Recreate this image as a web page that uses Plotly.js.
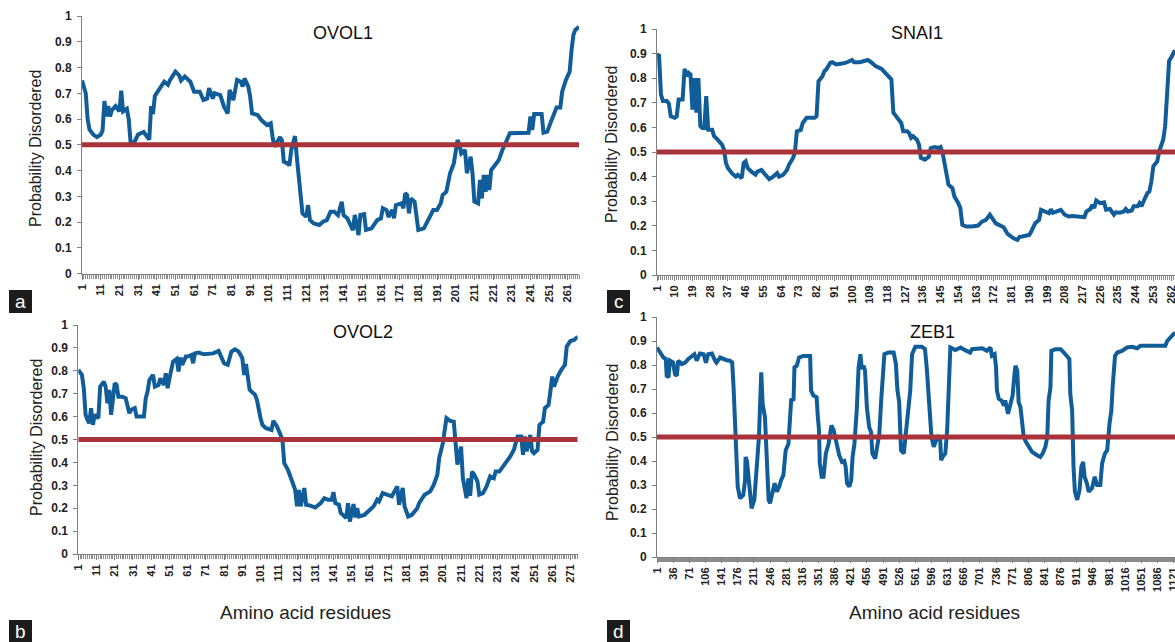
<!DOCTYPE html>
<html>
<head>
<meta charset="utf-8">
<script src="https://cdn.plot.ly/plotly-3.0.1.min.js"></script>
<style>
html,body{margin:0;padding:0;background:#fff;}
#chart{width:1175px;height:642px;}
</style>
</head>
<body>
<div id="chart"></div>
<script>
// ---------------- DATA ----------------
const threshold = 0.5;

// OVOL1 (a) – 267 residues
const ovol1Res = [1,3,4,5,7,9,11,12,13,14,15,16,17,19,21,22,23,25,26,27,29,31,34,36,37,38,39,40,42,44,45,47,48,51,53,54,56,59,61,64,66,68,69,71,72,75,77,79,80,82,84,86,87,88,90,91,92,95,97,100,102,103,104,105,107,108,109,111,112,113,115,116,117,118,119,121,122,123,125,128,130,132,134,136,138,140,141,143,145,146,147,149,150,152,153,156,159,161,162,164,165,167,168,169,172,173,174,175,176,177,179,180,181,184,186,189,191,193,194,196,198,200,202,203,204,206,207,209,210,211,213,214,215,216,217,218,219,220,222,224,226,227,228,230,233,236,240,241,242,243,244,247,248,250,252,254,255,257,258,260,262,263,264,265,267];
const ovol1Prob = [0.75,0.70,0.60,0.56,0.54,0.53,0.54,0.555,0.67,0.61,0.65,0.61,0.635,0.65,0.63,0.71,0.63,0.64,0.60,0.51,0.51,0.54,0.55,0.525,0.52,0.65,0.62,0.69,0.71,0.73,0.745,0.733,0.75,0.784,0.77,0.75,0.765,0.745,0.706,0.706,0.674,0.68,0.72,0.68,0.70,0.693,0.648,0.622,0.713,0.674,0.752,0.745,0.726,0.758,0.726,0.687,0.622,0.616,0.596,0.577,0.584,0.53,0.493,0.505,0.53,0.517,0.435,0.428,0.42,0.48,0.534,0.45,0.383,0.30,0.234,0.221,0.266,0.208,0.195,0.189,0.202,0.208,0.24,0.24,0.227,0.279,0.227,0.215,0.189,0.169,0.228,0.15,0.228,0.231,0.17,0.176,0.208,0.215,0.254,0.247,0.22,0.247,0.215,0.266,0.273,0.254,0.312,0.305,0.234,0.292,0.279,0.234,0.17,0.176,0.202,0.247,0.247,0.273,0.305,0.318,0.39,0.428,0.519,0.50,0.467,0.48,0.39,0.454,0.39,0.28,0.273,0.364,0.292,0.383,0.318,0.383,0.325,0.402,0.421,0.44,0.48,0.493,0.512,0.545,0.545,0.545,0.547,0.61,0.558,0.62,0.62,0.62,0.547,0.551,0.59,0.635,0.645,0.645,0.706,0.752,0.784,0.868,0.926,0.946,0.958];
const ovol1Ticks = [1,11,21,31,41,51,61,71,81,91,101,111,121,131,141,151,161,171,181,191,201,211,221,231,241,251,261];

// OVOL2 (b) – 275 residues
const ovol2Res = [1,3,4,5,6,7,8,9,10,12,13,15,16,17,18,19,21,22,23,25,27,29,30,32,33,35,37,38,39,40,42,43,45,46,48,49,50,51,53,55,56,57,58,60,61,63,64,65,67,70,72,75,78,80,81,83,85,87,89,91,92,93,94,95,98,99,101,102,104,107,108,110,112,113,114,116,118,120,121,122,123,125,126,128,131,133,134,136,138,140,141,142,144,145,148,149,150,152,153,154,155,158,161,163,165,166,168,170,173,176,177,179,180,182,184,187,188,191,194,196,198,199,201,203,205,207,208,209,211,212,214,215,216,217,218,219,220,221,223,225,227,229,230,232,234,236,238,240,242,244,245,246,247,249,250,251,253,254,256,257,259,260,261,262,264,266,268,269,271,273,275];
const ovol2Prob = [0.804,0.782,0.724,0.608,0.586,0.571,0.637,0.564,0.608,0.593,0.731,0.753,0.731,0.658,0.717,0.608,0.746,0.739,0.687,0.687,0.68,0.615,0.63,0.637,0.60,0.60,0.60,0.68,0.709,0.76,0.782,0.731,0.738,0.767,0.738,0.789,0.724,0.767,0.84,0.852,0.797,0.858,0.826,0.862,0.862,0.869,0.833,0.876,0.88,0.872,0.872,0.876,0.887,0.855,0.833,0.826,0.884,0.894,0.884,0.855,0.782,0.83,0.782,0.717,0.695,0.673,0.593,0.564,0.549,0.542,0.581,0.557,0.52,0.499,0.397,0.368,0.324,0.28,0.208,0.28,0.208,0.288,0.215,0.212,0.203,0.215,0.222,0.244,0.237,0.237,0.27,0.222,0.215,0.179,0.157,0.222,0.142,0.218,0.16,0.20,0.164,0.171,0.193,0.208,0.237,0.23,0.266,0.259,0.252,0.295,0.215,0.288,0.208,0.164,0.171,0.20,0.222,0.259,0.273,0.302,0.346,0.419,0.484,0.593,0.581,0.578,0.477,0.39,0.469,0.331,0.244,0.33,0.254,0.36,0.349,0.331,0.317,0.259,0.266,0.295,0.339,0.331,0.36,0.36,0.382,0.397,0.426,0.455,0.513,0.513,0.433,0.513,0.448,0.52,0.448,0.44,0.455,0.564,0.578,0.637,0.651,0.709,0.775,0.731,0.775,0.804,0.826,0.906,0.93,0.935,0.949];
const ovol2Ticks = [1,11,21,31,41,51,61,71,81,91,101,111,121,131,141,151,161,171,181,191,201,211,221,231,241,251,261,271];

// SNAI1 (c) – 264 residues
const snai1Res = [1,2,3,4,6,7,8,10,11,12,14,15,16,17,18,19,20,21,22,23,24,25,26,27,29,30,32,34,35,36,37,39,41,42,44,45,46,47,49,51,52,54,56,58,60,62,63,65,67,68,70,71,72,74,75,77,79,81,82,83,85,86,87,89,90,92,95,97,100,101,104,107,108,110,112,115,118,119,120,121,123,125,126,128,129,130,131,133,134,135,137,139,140,142,144,145,146,147,148,149,151,152,154,155,156,158,161,164,166,168,170,172,173,177,179,182,184,185,188,190,191,193,195,196,198,200,201,202,205,206,208,210,212,214,217,218,219,221,222,223,224,226,228,229,231,233,234,236,238,239,240,242,243,245,246,247,248,250,251,252,253,255,256,258,259,260,261,262,264];
const snai1Prob = [0.89,0.897,0.734,0.707,0.707,0.697,0.645,0.639,0.645,0.713,0.713,0.838,0.808,0.822,0.815,0.672,0.80,0.66,0.80,0.605,0.598,0.598,0.727,0.59,0.59,0.564,0.548,0.53,0.51,0.455,0.435,0.414,0.40,0.407,0.394,0.455,0.462,0.435,0.42,0.408,0.42,0.427,0.408,0.39,0.40,0.414,0.40,0.407,0.427,0.448,0.475,0.496,0.584,0.59,0.618,0.639,0.639,0.639,0.645,0.788,0.808,0.829,0.836,0.863,0.865,0.856,0.86,0.863,0.874,0.865,0.865,0.87,0.874,0.863,0.849,0.838,0.815,0.806,0.795,0.66,0.639,0.618,0.584,0.584,0.577,0.557,0.564,0.55,0.53,0.476,0.469,0.48,0.516,0.52,0.516,0.52,0.497,0.455,0.40,0.367,0.353,0.319,0.292,0.272,0.204,0.197,0.197,0.201,0.217,0.224,0.245,0.224,0.21,0.194,0.167,0.149,0.143,0.154,0.159,0.163,0.177,0.21,0.224,0.265,0.258,0.251,0.267,0.253,0.262,0.265,0.245,0.238,0.24,0.238,0.238,0.235,0.258,0.268,0.285,0.272,0.303,0.292,0.295,0.265,0.268,0.245,0.255,0.253,0.258,0.268,0.258,0.262,0.279,0.279,0.292,0.28,0.299,0.333,0.34,0.38,0.442,0.462,0.503,0.55,0.605,0.754,0.87,0.883,0.914];
const snai1Ticks = [1,10,19,28,37,46,55,64,73,82,91,100,109,118,127,136,145,154,163,172,181,190,199,208,217,226,235,244,253,262];

// ZEB1 (d) – 1124 residues
const zeb1Res = [1,7,15,20,22,26,29,36,40,44,47,55,62,69,76,82,87,94,102,107,112,120,127,130,138,145,152,159,164,167,169,172,174,176,181,188,192,193,196,201,206,212,217,222,227,230,235,239,243,246,251,256,261,266,270,275,280,286,292,297,299,304,309,318,333,335,340,347,350,352,354,358,362,367,373,379,384,391,396,402,407,410,413,418,422,425,429,434,438,442,445,449,452,456,461,465,468,474,480,483,487,491,494,503,514,519,522,526,530,536,541,545,550,554,561,575,582,586,591,596,601,606,610,615,617,620,626,630,633,637,648,659,669,680,684,695,706,716,724,727,733,736,738,742,748,753,756,762,767,772,776,778,782,785,789,792,796,801,807,814,825,832,837,843,847,850,854,856,865,876,883,890,895,897,901,904,907,912,917,921,925,928,933,937,944,950,955,962,966,972,977,982,986,989,994,999,1009,1020,1031,1042,1049,1064,1082,1103,1107,1114,1124];
const zeb1Prob = [0.873,0.852,0.831,0.825,0.755,0.749,0.818,0.81,0.762,0.755,0.818,0.804,0.81,0.825,0.838,0.845,0.818,0.848,0.845,0.81,0.845,0.848,0.818,0.81,0.831,0.825,0.82,0.818,0.81,0.707,0.61,0.472,0.403,0.293,0.244,0.258,0.32,0.417,0.40,0.307,0.203,0.238,0.39,0.50,0.769,0.638,0.583,0.39,0.238,0.224,0.258,0.307,0.272,0.293,0.32,0.341,0.445,0.472,0.659,0.652,0.79,0.797,0.831,0.838,0.838,0.693,0.673,0.666,0.576,0.535,0.39,0.334,0.334,0.431,0.472,0.548,0.528,0.472,0.424,0.396,0.40,0.376,0.307,0.293,0.32,0.417,0.472,0.61,0.79,0.845,0.783,0.797,0.776,0.624,0.541,0.521,0.431,0.41,0.472,0.514,0.652,0.769,0.845,0.852,0.852,0.804,0.70,0.645,0.445,0.431,0.514,0.583,0.693,0.845,0.876,0.876,0.866,0.783,0.652,0.50,0.459,0.486,0.507,0.486,0.403,0.417,0.431,0.528,0.666,0.873,0.862,0.873,0.862,0.852,0.866,0.87,0.87,0.859,0.873,0.838,0.845,0.79,0.693,0.659,0.652,0.631,0.652,0.597,0.631,0.673,0.762,0.797,0.776,0.645,0.624,0.555,0.50,0.479,0.459,0.438,0.424,0.417,0.431,0.459,0.50,0.652,0.707,0.859,0.866,0.866,0.852,0.838,0.825,0.68,0.61,0.376,0.272,0.238,0.279,0.376,0.396,0.334,0.307,0.272,0.286,0.334,0.30,0.30,0.39,0.431,0.445,0.555,0.61,0.714,0.838,0.852,0.859,0.873,0.876,0.87,0.88,0.88,0.88,0.88,0.90,0.917,0.935];
const zeb1Ticks = [1,36,71,106,141,176,211,246,281,316,351,386,421,456,491,526,561,596,631,666,701,736,771,806,841,876,911,946,981,1016,1051,1086,1121];

const yTicks = [0,0.1,0.2,0.3,0.4,0.5,0.6,0.7,0.8,0.9,1];
const yTickText = ['0','0.1','0.2','0.3','0.4','0.5','0.6','0.7','0.8','0.9','1'];

// ---------------- LAYOUT HELPERS ----------------
const W = 1175, H = 642;
const px = v => v / W;
const py = v => 1 - v / H;
const FONT = 'Liberation Sans, Arial, sans-serif';
const BLUE = '#115d99';
const RED = '#a9333a';

const panels = [
  {name:'OVOL1', res:ovol1Res, prob:ovol1Prob, ticks:ovol1Ticks, n:267, x0:82,   x1:579,  yTop:16,  yBot:273.7},
  {name:'SNAI1', res:snai1Res, prob:snai1Prob, ticks:snai1Ticks, n:264, x0:657,  x1:1175, yTop:29,  yBot:275},
  {name:'OVOL2', res:ovol2Res, prob:ovol2Prob, ticks:ovol2Ticks, n:275, x0:78.3, x1:577.7,yTop:325, yBot:554},
  {name:'ZEB1',  res:zeb1Res,  prob:zeb1Prob,  ticks:zeb1Ticks,  n:1124,x0:657,  x1:1175, yTop:317, yBot:557}
];

const data = [];
const layout = {
  width: W, height: H,
  margin: {l:0, r:0, t:0, b:0},
  paper_bgcolor: '#fff', plot_bgcolor: '#fff',
  showlegend: false,
  font: {family: FONT, color: '#222'},
  annotations: [], shapes: []
};

panels.forEach((p, i) => {
  const k = i + 1;
  const xa = 'x' + (k === 1 ? '' : k), ya = 'y' + (k === 1 ? '' : k);
  const xName = 'xaxis' + (k === 1 ? '' : k), yName = 'yaxis' + (k === 1 ? '' : k);
  data.push({
    type: 'scatter', mode: 'lines', x: p.res, y: p.prob, xaxis: xa, yaxis: ya,
    line: {color: BLUE, width: 4}, hoverinfo: 'skip'
  });
  data.push({
    type: 'scatter', mode: 'lines', x: [1, p.n], y: [threshold, threshold], xaxis: xa, yaxis: ya,
    line: {color: RED, width: 5}, hoverinfo: 'skip'
  });
  layout[xName] = {
    domain: [px(p.x0), px(p.x1)], anchor: ya, range: [1, p.n],
    showgrid: false, zeroline: false, showline: true, linecolor: '#808080', linewidth: 1,
    tickmode: 'array', tickvals: p.ticks, ticktext: p.ticks.map(String),
    ticks: 'outside', ticklen: 5, tickcolor: '#808080', tickwidth: 1,
    ticklabeloverflow: 'allow',
    tickangle: -90, tickfont: {family: FONT, size: 11, color: '#222', weight: 'bold'},
    minor: {tick0: 1, dtick: 1, ticks: 'outside', ticklen: 4, tickcolor: '#8c8c8c', tickwidth: 1, showgrid: false},
    fixedrange: true
  };
  layout[yName] = {
    domain: [py(p.yBot), py(p.yTop)], anchor: xa, range: [0, 1],
    showgrid: false, zeroline: false, showline: true, linecolor: '#808080', linewidth: 1,
    tickmode: 'array', tickvals: yTicks, ticktext: yTickText,
    ticks: 'outside', ticklen: 4, tickcolor: '#808080',
    ticklabelstandoff: 3,
    tickfont: {family: FONT, size: 12, color: '#222', weight: 'bold'},
    fixedrange: true
  };
});

// Gene titles
[['OVOL1',343,33],['SNAI1',917,33],['OVOL2',363,332],['ZEB1',932,332]].forEach(t => {
  layout.annotations.push({text: t[0], xref:'paper', yref:'paper', x: px(t[1]), y: py(t[2]),
    xanchor:'center', yanchor:'middle', showarrow:false, font:{family:FONT, size:18, color:'#111'}});
});
// Y axis titles
[[36,149],[612,145],[36,438],[612,443]].forEach(t => {
  layout.annotations.push({text:'Probability Disordered', xref:'paper', yref:'paper', x: px(t[0]), y: py(t[1]),
    xanchor:'center', yanchor:'middle', textangle:-90, showarrow:false, font:{family:FONT, size:16, color:'#222'}});
});
// X axis titles
[[305,612],[934,612]].forEach(t => {
  layout.annotations.push({text:'Amino acid residues', xref:'paper', yref:'paper', x: px(t[0]), y: py(t[1]),
    xanchor:'center', yanchor:'middle', showarrow:false, font:{family:FONT, size:19, color:'#222'}});
});
// Panel labels
[['a',9,290,23],['c',607,290,23],['b',9,620,22],['d',607,620,22]].forEach(t => {
  layout.shapes.push({type:'rect', xref:'paper', yref:'paper', x0: px(t[1]), x1: px(t[1]+23), y0: py(t[2]+t[3]), y1: py(t[2]),
    fillcolor:'#1c1c1c', line:{width:0}, layer:'above'});
  layout.annotations.push({text:t[0], xref:'paper', yref:'paper', x: px(t[1]+11.5), y: py(t[2]+t[3]/2),
    xanchor:'center', yanchor:'middle', showarrow:false, font:{family:FONT, size:19, color:'#fff'}});
});

Plotly.newPlot('chart', data, layout, {staticPlot: true, displayModeBar: false});
</script>
</body>
</html>
